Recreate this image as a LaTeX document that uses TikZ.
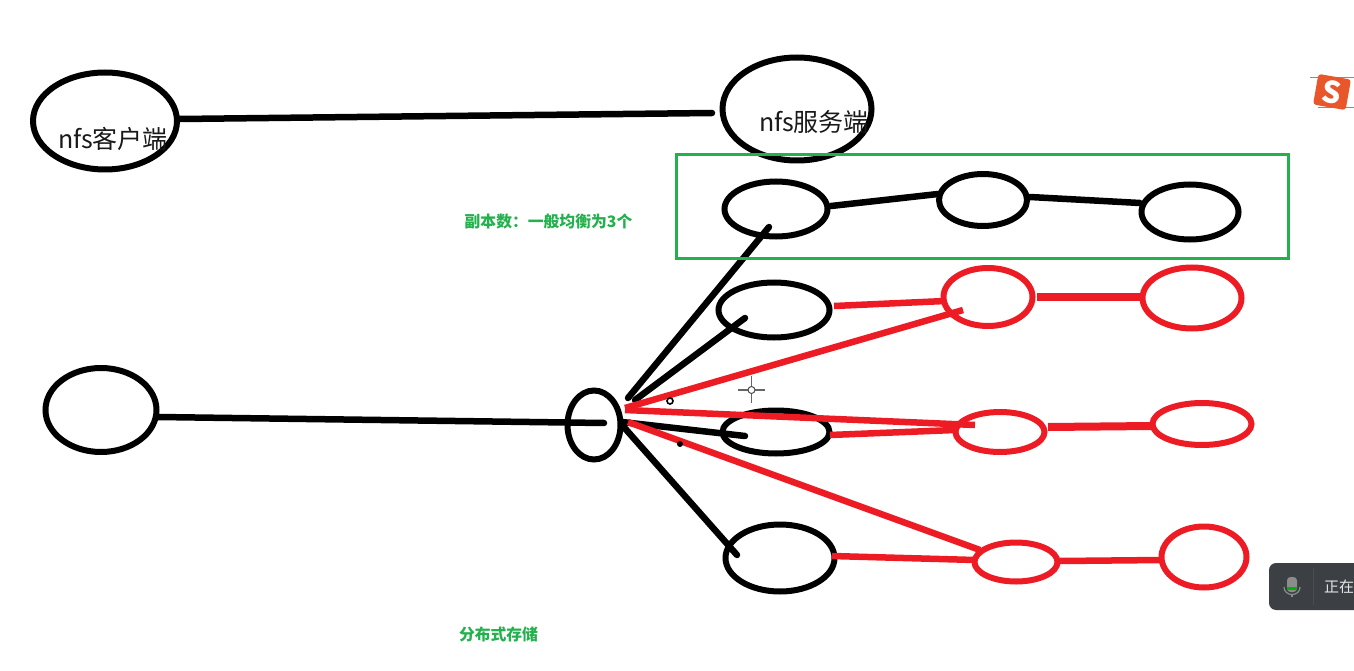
\documentclass[tikz,border=0pt]{standalone}
\usepackage{fontspec}
\setmainfont{Noto Sans CJK SC}
\usetikzlibrary{shapes.geometric}
\definecolor{rd}{HTML}{ED1C24}
\definecolor{gr}{HTML}{22B14C}
\definecolor{pill}{HTML}{3C3F44}
\definecolor{sogou}{HTML}{E8562A}
\tikzset{
  blk/.style={draw=black,line width=6pt,ellipse,inner sep=0pt,fill=none},
  red/.style={draw=rd,line width=6pt,ellipse,inner sep=0pt,fill=none},
  bl/.style={draw=black,line width=6.5pt,line cap=round},
  rl/.style={draw=rd,line width=6.5pt},
  rlt/.style={draw=rd,line width=8pt},
  lab/.style={font=\fontsize{25}{25}\selectfont,text=black!90,inner sep=0pt},
  note/.style={font=\fontsize{15.8}{16}\selectfont\bfseries,text=gr,inner sep=0pt},
}
\begin{document}
\begin{tikzpicture}[x=1pt,y=-1pt]
\useasboundingbox (0,0) rectangle (1354,671);
\clip (0,0) rectangle (1354,671);
% black ellipses
\node[blk,minimum width=144pt,minimum height=97pt] (client) at (105,121) {};
\node[blk,minimum width=149pt,minimum height=103pt] (server) at (797,109) {};
\node[blk,minimum width=103pt,minimum height=55pt] (a1) at (776,209) {};
\node[blk,minimum width=88pt,minimum height=52pt] (a2) at (983,200) {};
\node[blk,minimum width=97pt,minimum height=55pt] (a3) at (1190,212) {};
\node[blk,minimum width=111pt,minimum height=55pt] (b1) at (774,310) {};
\node[blk,minimum width=111pt,minimum height=84pt] (left) at (101,410) {};
\node[blk,minimum width=53pt,minimum height=69pt] (hub) at (594,425) {};
\node[blk,minimum width=107pt,minimum height=43pt] (c1) at (776,432) {};
\node[blk,minimum width=109pt,minimum height=67pt] (d1) at (780,558) {};
% red ellipses
\node[red,minimum width=89pt,minimum height=58pt] (b2) at (988,297) {};
\node[red,minimum width=99pt,minimum height=61pt] (b3) at (1192,298) {};
\node[red,minimum width=89pt,minimum height=40pt] (c2) at (1000,432) {};
\node[red,minimum width=99pt,minimum height=42pt] (c3) at (1202,424) {};
\node[red,minimum width=83pt,minimum height=39pt] (d2) at (1016,562) {};
\node[red,minimum width=85pt,minimum height=61pt] (d3) at (1204,557) {};
% free connector ends
\coordinate (clientE) at (180,119);
\coordinate (serverW) at (712,113);
\coordinate (a1E) at (831,206);
\coordinate (a2W) at (938,194);
\coordinate (a2E) at (1030,197);
\coordinate (a3W) at (1140,203);
\coordinate (leftE) at (158,417);
\coordinate (hubIn) at (604,423);
\coordinate (hubA) at (628,398);
\coordinate (a1In) at (769,227);
\coordinate (hubB) at (635,400);
\coordinate (b1In) at (745,318);
\coordinate (hubC) at (622,422);
\coordinate (c1In) at (745,436);
\coordinate (hubD) at (622,425);
\coordinate (d1In) at (737,555);
\coordinate (hubR1) at (625,408);
\coordinate (b2In) at (963,310);
\coordinate (hubR2) at (625,410);
\coordinate (c2In) at (975,425);
\coordinate (hubR3) at (628,422);
\coordinate (d2W) at (980,550);
\coordinate (b1E) at (834,306);
\coordinate (b2W) at (945,301);
\coordinate (b2E) at (1037,297);
\coordinate (b3W) at (1142,297);
\coordinate (c1E) at (830,435);
\coordinate (c2W) at (955,430);
\coordinate (c2E) at (1048,427);
\coordinate (c3W) at (1152,426);
\coordinate (d1E) at (832,556);
\coordinate (d2WW) at (975,560);
\coordinate (d2E) at (1060,561);
\coordinate (d3W) at (1162,560);
% black connectors
\draw[bl] (clientE) -- (serverW);
\draw[bl] (a1E) -- (a2W);
\draw[bl] (a2E) -- (a3W);
\draw[bl] (leftE) -- (hubIn);
\draw[bl] (hubA) -- (a1In);
\draw[bl] (hubB) -- (b1In);
\draw[bl] (hubC) -- (c1In);
\draw[bl] (hubD) -- (d1In);
% red connectors
\draw[rl] (hubR1) -- (b2In);
\draw[rl] (hubR2) -- (c2In);
\draw[rl] (hubR3) -- (d2W);
\draw[rl] (b1E) -- (b2W);
\draw[rlt] (b2E) -- (b3W);
\draw[rl] (c1E) -- (c2W);
\draw[rlt] (c2E) -- (c3W);
\draw[rl] (d1E) -- (d2WW);
\draw[rl] (d2E) -- (d3W);
% labels
\node[lab] (t1) at (113,139) {nfs客户端};
\node[lab] (t2) at (814,122) {nfs服务端};
\node[note] (n1) at (548.5,222) {副本数：一般均衡为3个};
\node[note] (n2) at (498.5,634) {分布式存储};
% replica box
\node[draw=gr,line width=3pt,minimum width=612pt,minimum height=103pt,inner sep=0pt] (box) at (982,206.5) {};
% cursor marks
\draw[draw=black!60,line width=1.3pt] (738,390) -- (765,390) (751.5,376) -- (751.5,403);
\node[circle,draw=black!70,fill=white,line width=1pt,minimum size=7pt,inner sep=0pt] (cur) at (751.5,390) {};
\node[circle,draw=black,fill=white,line width=1.6pt,minimum size=6pt,inner sep=0pt] (m1) at (670,401) {};
\node[circle,fill=black,minimum size=6pt,inner sep=0pt] (m2) at (680,444) {};
% input-method icon
\draw[black!45,line width=.8pt] (1310,77) -- (1354,77) (1318,107) -- (1354,107);
\node[rotate=-10,fill=sogou,rounded corners=3pt,minimum width=33pt,minimum height=31pt,inner sep=0pt,text=white,font=\fontsize{30}{30}\selectfont\bfseries] (sg) at (1332,92) {S};
% recording pill
\fill[pill,rounded corners=7pt] (1269,563) rectangle (1380,610);
\fill[black!45!white,rounded corners=3.5pt] (1287,577) rectangle (1297,592);
\fill[green!70!black] (1287,587) rectangle (1297,590);
\draw[black!45!white,line width=1.2pt] (1284,587) .. controls (1284,597) and (1300,597) .. (1300,587);
\draw[black!45!white,line width=1.2pt] (1292,595) -- (1292,597);
\draw[black!70,line width=1pt] (1313,568) -- (1313,605);
\node[text=white!90!black,font=\fontsize{15}{15}\selectfont,inner sep=0pt,anchor=west] (rec) at (1324,587) {正在};
\end{tikzpicture}
\end{document}
